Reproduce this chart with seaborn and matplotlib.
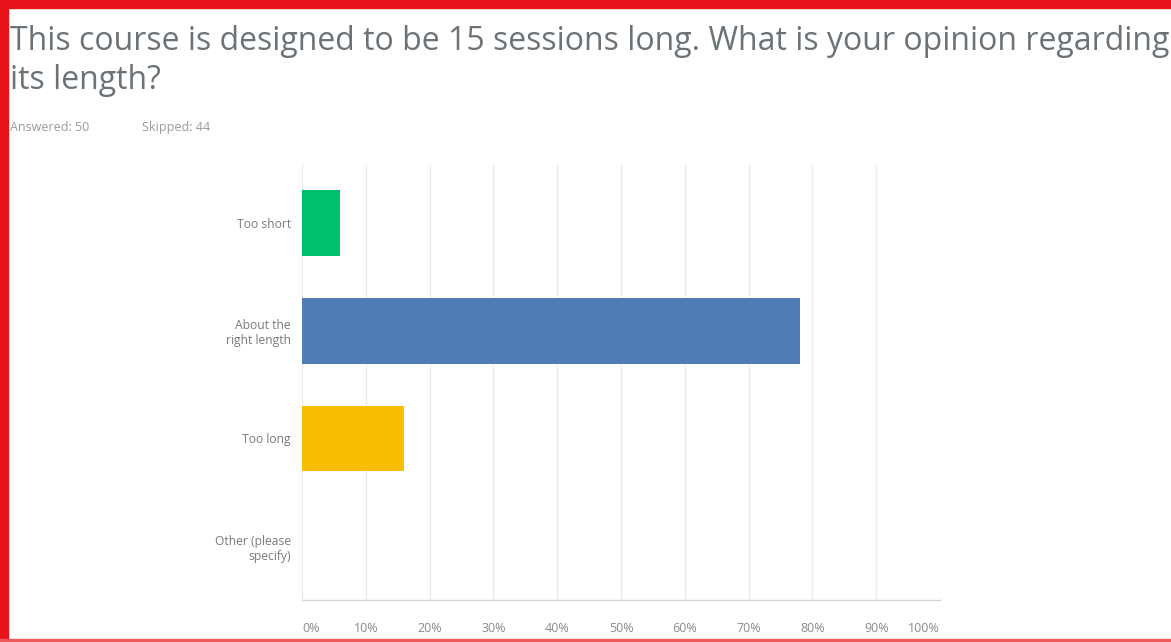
import matplotlib
matplotlib.use("Agg")
import matplotlib.pyplot as plt
import seaborn as sns
import pandas as pd
from matplotlib.patches import Rectangle
from matplotlib.ticker import FixedLocator

# Survey responses (percent of answered)
choices = ["Too short", "About the\nright length", "Too long", "Other (please\nspecify)"]
percents = [6, 78, 16, 0]
bar_colors = ["#00BF6F", "#507CB6", "#F9BE00", "#A05DB5"]
x_ticks = [0, 10, 20, 30, 40, 50, 60, 70, 80, 90, 100]
x_tick_labels = ["0%", "10%", "20%", "30%", "40%", "50%", "60%", "70%", "80%", "90%", "100%"]

title_line1 = "This course is designed to be 15 sessions long. What is your opinion regarding"
title_line2 = "its length?"
answered_text = "Answered: 50"
skipped_text = "Skipped: 44"

sns.set_theme(style="white")
plt.rcParams["font.family"] = ["Open Sans", "DejaVu Sans"]

df = pd.DataFrame({"choice": choices, "percent": percents})

fig = plt.figure(figsize=(11.71, 6.42), dpi=100)
fig.patch.set_facecolor("white")

ax = fig.add_axes([302 / 1171, 42 / 642, 638 / 1171, 435 / 642])
sns.barplot(data=df, y="choice", x="percent", hue="choice", palette=bar_colors,
            orient="h", width=0.61, legend=False, ax=ax, saturation=1, linewidth=0)

ax.set_xlim(0, 100)
ax.set_ylim(3.5, -0.54)
ax.xaxis.set_major_locator(FixedLocator(x_ticks))
ax.set_xticklabels(x_tick_labels)
ax.set_xlabel("")
ax.set_ylabel("")
ax.set_axisbelow(True)
ax.grid(axis="x", color="#ececec", linewidth=1.0)
ax.grid(axis="y", visible=False)
for side in ["top", "right", "left"]:
    ax.spines[side].set_visible(False)
ax.spines["bottom"].set_color("#d6d6d6")
ax.spines["bottom"].set_linewidth(1.0)
ax.tick_params(axis="x", length=0, pad=16, labelsize=9, labelcolor="#8a8a8a")
ax.tick_params(axis="y", length=0, pad=8, labelsize=8.7, labelcolor="#7a7a7a")
for lbl in ax.get_yticklabels():
    lbl.set_horizontalalignment("right")
    lbl.set_multialignment("right")
xlabels = ax.get_xticklabels()
xlabels[0].set_horizontalalignment("left")
xlabels[-1].set_horizontalalignment("right")

# Question heading and response counts
fig.text(10 / 1171, 1 - 50 / 642, title_line1, fontsize=23, color="#6b7378",
         ha="left", va="baseline")
fig.text(10 / 1171, 1 - 89 / 642, title_line2, fontsize=23, color="#6b7378",
         ha="left", va="baseline")
fig.text(10 / 1171, 1 - 131 / 642, answered_text, fontsize=9, color="#9a9a9a",
         ha="left", va="baseline")
fig.text(142 / 1171, 1 - 131 / 642, skipped_text, fontsize=9, color="#9a9a9a",
         ha="left", va="baseline")

# Red frame on the top, left and bottom edges
frame = "#e8141b"
fig.patches.append(Rectangle((0, 1 - 8 / 642), 1, 8 / 642, transform=fig.transFigure,
                             color=frame, zorder=10))
fig.patches.append(Rectangle((0, 0), 8 / 1171, 1, transform=fig.transFigure,
                             color=frame, zorder=10))
fig.patches.append(Rectangle((0, 0), 1, 3 / 642, transform=fig.transFigure,
                             color="#f05a5a", zorder=10))

fig.savefig("out.png", dpi=100)
